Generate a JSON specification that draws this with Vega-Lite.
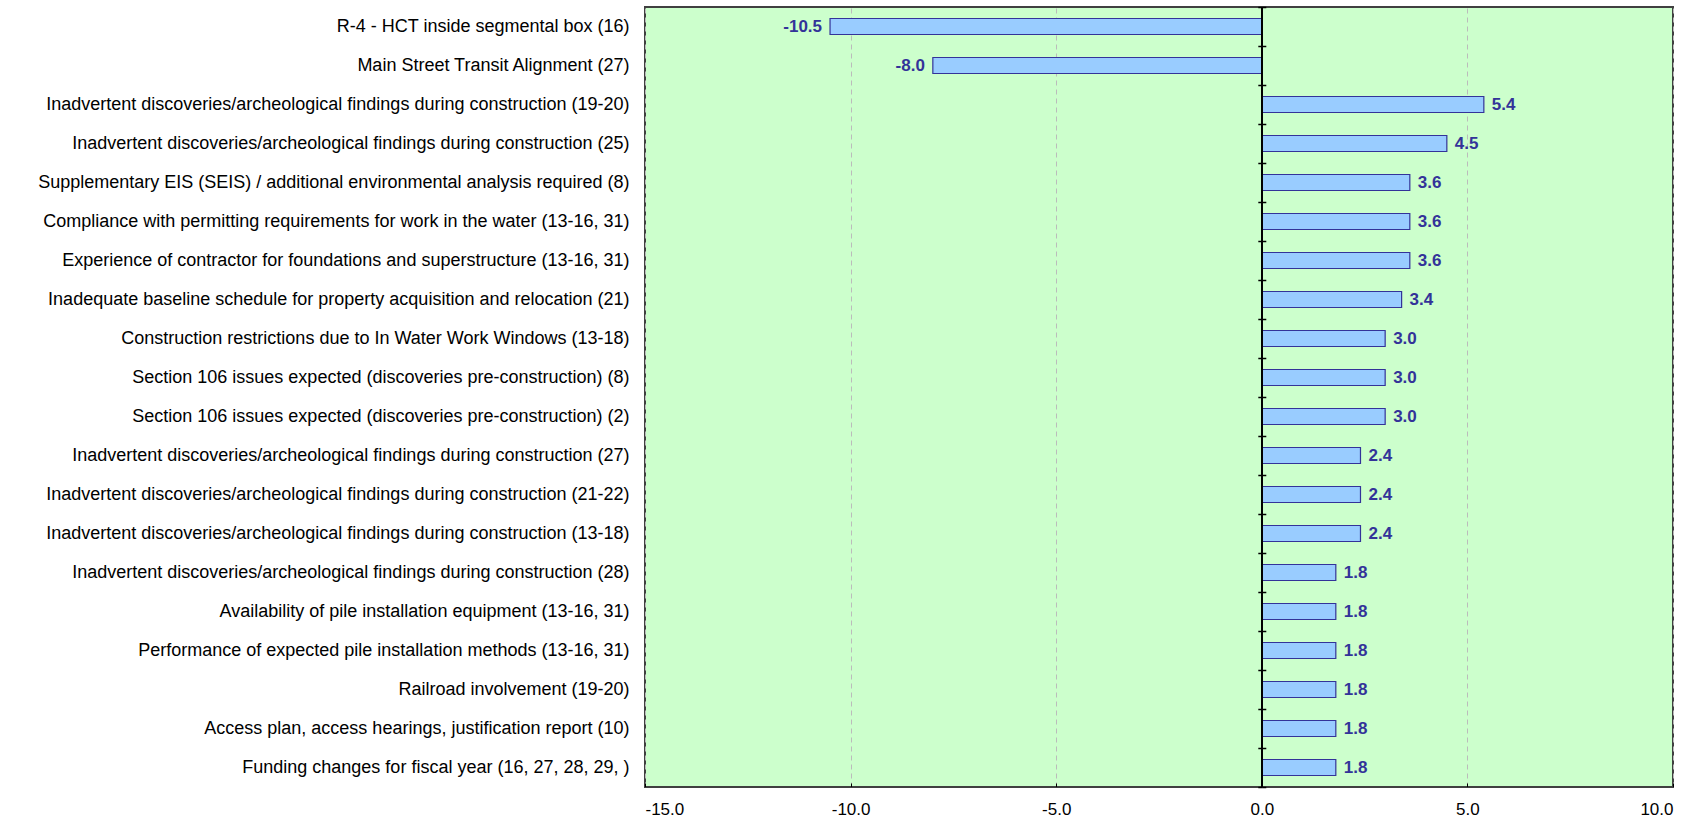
{
  "$schema": "https://vega.github.io/schema/vega-lite/v6.json",
  "autosize": {"type": "none"},
  "padding": {"left": 645, "top": 7, "right": 27, "bottom": 37},
  "width": 1028,
  "height": 780,
  "background": "white",
  "config": {
    "view": {"fill": "#CCFFCC", "stroke": "#404040", "strokeWidth": 2},
    "font": "Liberation Sans",
    "locale": {"number": {"decimal": ".", "thousands": ",", "grouping": [3], "currency": ["$", ""], "minus": "-"}}
  },
  "data": {
    "values": [
      {"risk": "R-4 - HCT inside segmental box (16)", "value": -10.5},
      {"risk": "Main Street Transit Alignment (27)", "value": -8.0},
      {"risk": "Inadvertent discoveries/archeological findings during construction (19-20)", "value": 5.4},
      {"risk": "Inadvertent discoveries/archeological findings during construction (25)", "value": 4.5},
      {"risk": "Supplementary EIS (SEIS) / additional environmental analysis required (8)", "value": 3.6},
      {"risk": "Compliance with permitting requirements for work in the water (13-16, 31)", "value": 3.6},
      {"risk": "Experience of contractor for foundations and superstructure (13-16, 31)", "value": 3.6},
      {"risk": "Inadequate baseline schedule for property acquisition and relocation (21)", "value": 3.4},
      {"risk": "Construction restrictions due to In Water Work Windows (13-18)", "value": 3.0},
      {"risk": "Section 106 issues expected (discoveries pre-construction) (8)", "value": 3.0},
      {"risk": "Section 106 issues expected (discoveries pre-construction) (2)", "value": 3.0},
      {"risk": "Inadvertent discoveries/archeological findings during construction (27)", "value": 2.4},
      {"risk": "Inadvertent discoveries/archeological findings during construction (21-22)", "value": 2.4},
      {"risk": "Inadvertent discoveries/archeological findings during construction (13-18)", "value": 2.4},
      {"risk": "Inadvertent discoveries/archeological findings during construction (28)", "value": 1.8},
      {"risk": "Availability of pile installation equipment (13-16, 31)", "value": 1.8},
      {"risk": "Performance of expected pile installation methods (13-16, 31)", "value": 1.8},
      {"risk": "Railroad involvement (19-20)", "value": 1.8},
      {"risk": "Access plan, access hearings, justification report (10)", "value": 1.8},
      {"risk": "Funding changes for fiscal year (16, 27, 28, 29, )", "value": 1.8}
    ]
  },
  "resolve": {"axis": {"y": "independent"}},
  "layer": [
    {
      "mark": {"type": "bar", "fill": "#99CCFF", "stroke": "#333399", "strokeWidth": 1.2, "size": 16},
      "encoding": {
        "y": {
          "field": "risk", "type": "nominal", "sort": null, "title": null,
          "scale": {"paddingInner": 0, "paddingOuter": 0},
          "axis": {"orient": "left", "domain": false, "ticks": false, "grid": false, "labelFontSize": 18, "labelColor": "#000000", "labelPadding": 16, "labelLimit": 800, "labelFont": "Liberation Sans"}
        },
        "x": {
          "field": "value", "type": "quantitative", "title": null,
          "scale": {"domain": [-15, 10], "nice": false, "zero": false},
          "axis": {"values": [-15, -10, -5, 0, 5, 10], "format": ".1f", "labelFontSize": 17, "labelColor": "#000000", "labelPadding": 18, "tickSize": -4, "tickColor": "#000000", "domain": false, "grid": true, "gridDash": [5, 4], "gridColor": "#BBBBBB", "gridWidth": 1, "labelFont": "Liberation Sans"}
        }
      }
    },
    {
      "mark": {"type": "rule", "color": "#000000", "strokeWidth": 1.5},
      "encoding": {"x": {"datum": 0}}
    },
    {
      "transform": [{"filter": "datum.value >= 0"}],
      "mark": {"type": "text", "align": "left", "dx": 8, "fontWeight": "bold", "fontSize": 17, "color": "#333399", "font": "Liberation Sans"},
      "encoding": {
        "y": {"field": "risk", "type": "nominal", "sort": null,
          "axis": {"orient": "left", "offset": -616.8, "labels": false, "domain": false, "grid": false, "title": null, "tickBand": "extent", "tickSize": 4, "tickColor": "#000000", "tickWidth": 1.5}},
        "x": {"field": "value", "type": "quantitative"},
        "text": {"field": "value", "type": "quantitative", "format": ".1f"}
      }
    },
    {
      "transform": [{"filter": "datum.value < 0"}],
      "mark": {"type": "text", "align": "right", "dx": -8, "fontWeight": "bold", "fontSize": 17, "color": "#333399", "font": "Liberation Sans"},
      "encoding": {
        "y": {"field": "risk", "type": "nominal", "sort": null,
          "axis": {"orient": "right", "offset": -411.2, "labels": false, "domain": false, "grid": false, "title": null, "tickBand": "extent", "tickSize": 4, "tickColor": "#000000", "tickWidth": 1.5}},
        "x": {"field": "value", "type": "quantitative"},
        "text": {"field": "value", "type": "quantitative", "format": ".1f"}
      }
    }
  ]
}
